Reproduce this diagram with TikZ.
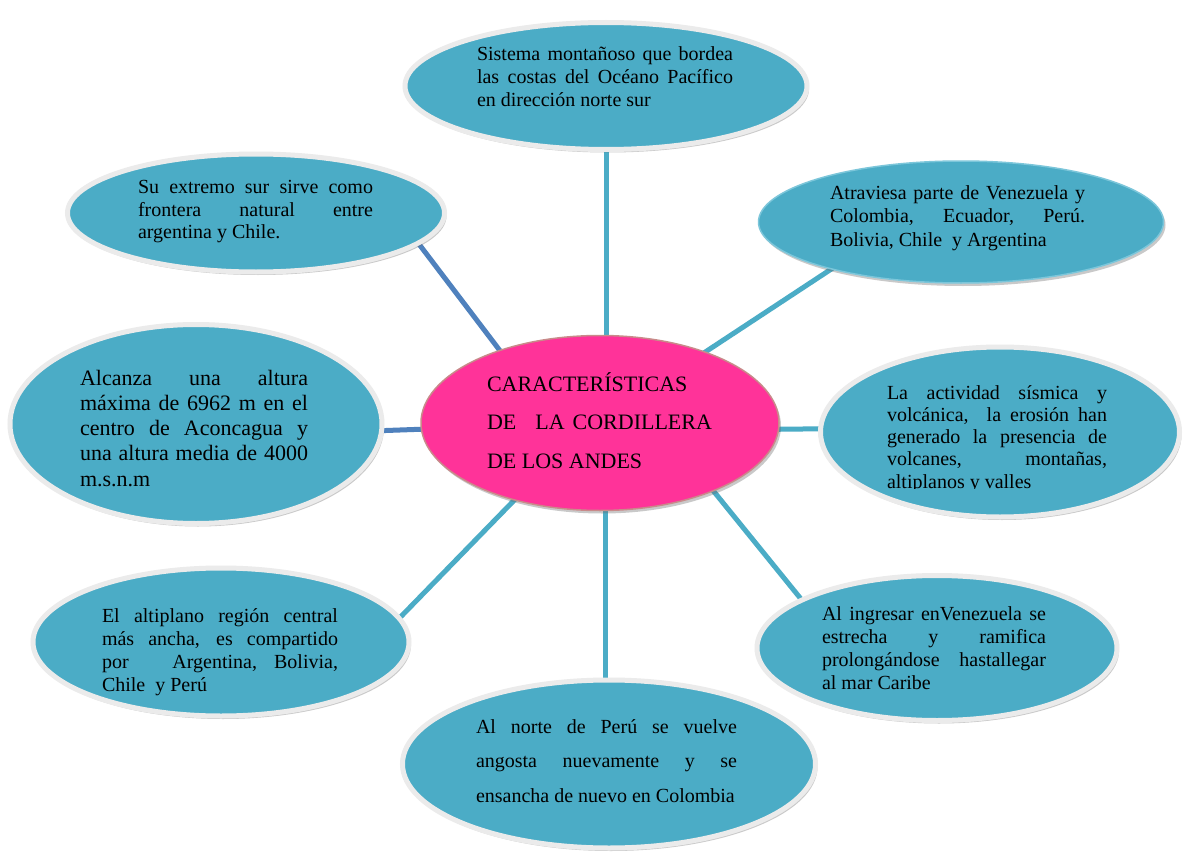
\documentclass[tikz,border=0pt]{standalone}
\usepackage{fontspec}
\setmainfont{Liberation Serif}
\usetikzlibrary{shapes.geometric,shadows}
\definecolor{aqua}{HTML}{4BACC6}
\definecolor{darkline}{HTML}{4F81BD}
\definecolor{ringgray}{HTML}{EBEBEB}
\definecolor{pinkfill}{HTML}{FF3399}
\definecolor{pinkedge}{HTML}{C98A8A}
\definecolor{ringblue}{HTML}{7CC6DA}
\pgfdeclarelayer{background}
\pgfsetlayers{background,main}
\newcommand\jline[1]{\makebox[\linewidth][s]{#1}\par}
\tikzset{
  bubble/.style={ellipse, fill=aqua, draw=ringgray, line width=5pt, inner sep=0pt,
    drop shadow={shadow xshift=2pt, shadow yshift=-3pt, opacity=0.35, fill=black!60}},
  thinbubble/.style={bubble, draw=ringblue, line width=1.5pt},
  hub/.style={ellipse, fill=pinkfill, draw=pinkedge, line width=1.5pt, inner sep=0pt,
    drop shadow={shadow xshift=2pt, shadow yshift=-3pt, opacity=0.35, fill=black!60}},
  txt/.style={anchor=base west, inner sep=0pt, outer sep=0pt, text=black},
  link/.style={line width=5pt, draw=aqua, shorten <=-6pt, shorten >=-6pt},
  darklink/.style={link, draw=darkline},
}
\begin{document}
\begin{tikzpicture}[x=1pt,y=-1pt]
\useasboundingbox (0,0) rectangle (1187,859);

% ellipses
\node[bubble, minimum width=402pt, minimum height=127pt] (top) at (606,86) {};
\node[bubble, minimum width=377pt, minimum height=118pt] (tl) at (256,213) {};
\node[thinbubble, minimum width=405pt, minimum height=122pt] (tr) at (961,222) {};
\node[bubble, minimum width=372pt, minimum height=199pt] (lft) at (196,424) {};
\node[hub, minimum width=358pt, minimum height=175pt] (hub) at (600,423) {};
\node[bubble, minimum width=359pt, minimum height=170pt] (rgt) at (1000,432) {};
\node[bubble, minimum width=376pt, minimum height=148pt] (bl) at (221,642) {};
\node[bubble, minimum width=360pt, minimum height=145pt] (br) at (937,648) {};
\node[bubble, minimum width=413pt, minimum height=168pt] (bot) at (609,764) {};

% connectors
\begin{pgfonlayer}{background}
\fill[white] (0,0) rectangle (1187,859);
\draw[link] (top.south) -- (top.south |- hub.center);
\draw[darklink] (tl.-11.2) -- (hub.144.6);
\draw[link] (tr.200.4) -- (hub.34.6);
\draw[darklink] (lft.-2.4) -- (hub.182.9);
\draw[link] (rgt.179.4) -- (hub.-2.2);
\draw[link] (bl.8.7) -- (hub.222.5);
\draw[link] (br.160) -- (hub.-31.2);
\draw[link] ([xshift=-4pt]bot.north) -- ([xshift=-4pt]bot.north |- hub.center);
\end{pgfonlayer}

% texts
\node[txt] (ttop) at (477,61) {\parbox[t]{256pt}{\fontsize{20}{23}\selectfont
  \jline{Sistema montañoso que bordea}
  \jline{las costas del Océano Pacífico}
  en dirección norte sur}};

\node[txt] (ttl) at (138,193) {\parbox[t]{235pt}{\fontsize{20}{23}\selectfont
  \jline{Su extremo sur sirve como}
  \jline{frontera natural entre}
  argentina y Chile.}};

\node[txt] (ttr) at (830,199) {\parbox[t]{255pt}{\fontsize{20}{23.5}\selectfont
  \jline{Atraviesa parte de Venezuela y}
  \jline{Colombia, Ecuador, Perú.}
  Bolivia, Chile\ \ y Argentina}};

\node[txt] (tlft) at (80,385) {\parbox[t]{228pt}{\fontsize{22}{25.3}\selectfont
  \jline{Alcanza una altura}
  \jline{máxima de 6962 m en el}
  \jline{centro de Aconcagua y}
  \jline{una altura media de 4000}
  m.s.n.m}};

\node[txt] (thub) at (487,391) {\parbox[t]{260pt}{\fontsize{22}{38.5}\selectfont
  CARACTERÍSTICAS\par
  DE\hspace{19pt}LA\hspace{8pt}CORDILLERA\par
  DE LOS ANDES}};

\begin{scope}
\clip (870,375) rectangle (1120,488);
\node[txt] (trgt) at (887,399) {\parbox[t]{220pt}{\fontsize{20}{22.3}\selectfont
  \jline{La actividad sísmica y}
  \jline{volcánica,\ \ la erosión han}
  \jline{generado la presencia de}
  \jline{volcanes, montañas,}
  altiplanos y valles}};
\end{scope}

\node[txt] (tbl) at (102,622) {\parbox[t]{236pt}{\fontsize{20}{23}\selectfont
  \jline{El altiplano región central}
  \jline{más ancha, es compartido}
  \jline{por\ \ \ Argentina, Bolivia,}
  Chile\ \ y Perú}};

\node[txt] (tbr) at (822,620) {\parbox[t]{224pt}{\fontsize{20}{23}\selectfont
  \jline{Al ingresar enVenezuela se}
  \jline{estrecha y ramifica}
  \jline{prolongándose hastallegar}
  al mar Caribe}};

\node[txt] (tbot) at (476,733) {\parbox[t]{261pt}{\fontsize{20}{34.7}\selectfont
  \jline{Al norte de Perú se vuelve}
  \jline{angosta nuevamente y se}
  ensancha de nuevo en Colombia}};
\end{tikzpicture}
\end{document}
